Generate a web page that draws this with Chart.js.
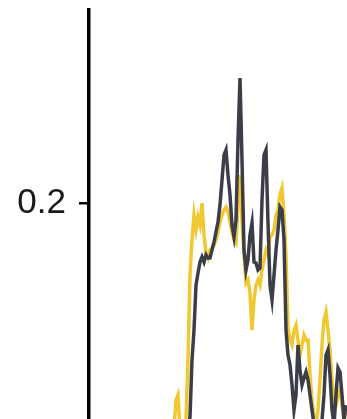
<!DOCTYPE html>
<html>
<head>
<meta charset="utf-8">
<script src="https://cdn.jsdelivr.net/npm/chart.js@4"></script>
<style>
    html, body { margin: 0; padding: 0; background: #fff; }
    #wrap { width: 347px; height: 419px; position: relative; }
</style>
</head>
<body>
<div id="wrap"><canvas id="densityChart"></canvas></div>
<script>
// x positions (week index) shared by both series
const weeks = [
    40, 41, 42, 43, 44, 45, 46, 47, 48, 49,
    50, 51, 52, 53, 54, 55, 56, 57, 58, 59,
    60, 61, 62, 63, 64, 65, 66, 67, 68, 69,
    70, 71, 72, 73, 74, 75, 76, 77, 78, 79,
    80, 81, 82, 83, 84, 85, 86, 87, 88, 89,
    90, 91, 92, 93, 94, 95, 96, 97, 98, 99,
    100, 101, 102, 103, 104, 105, 106, 107, 108, 109,
    110, 111, 112, 113, 114, 115, 116, 117, 118, 119,
    120, 121, 122, 123, 124, 125, 126, 127, 128
];

// dark grey series
const darkValues = [
    0.0902, 0.0902, 0.0902, 0.0902, 0.0902, 0.0902, 0.0902, 0.0902, 0.0902, 0.0949,
    0.1009, 0.1274, 0.1413, 0.1622, 0.1678, 0.1729, 0.1753, 0.1729, 0.1762, 0.1748,
    0.1748, 0.1785, 0.1822, 0.1869, 0.1915, 0.1994, 0.2110, 0.2226, 0.2250, 0.2133,
    0.2041, 0.1901, 0.1846, 0.1924, 0.2296, 0.2584, 0.2203, 0.1785, 0.1692, 0.1739,
    0.1855, 0.1911, 0.1729, 0.1725, 0.1692, 0.1701, 0.2017, 0.2226, 0.2250, 0.1911,
    0.1622, 0.1553, 0.1669, 0.1785, 0.1878, 0.1985, 0.1971, 0.1832, 0.1413, 0.1297,
    0.1251, 0.1158, 0.1042, 0.1112, 0.1344, 0.1228, 0.1158, 0.1190, 0.1218, 0.1181,
    0.1112, 0.1042, 0.0972, 0.0949, 0.0949, 0.0949, 0.0995, 0.1112, 0.1297, 0.1321,
    0.1204, 0.1042, 0.0972, 0.1112, 0.1237, 0.1218, 0.1112, 0.0995, 0.1065
];

// yellow series
const yellowValues = [
    0.0902, 0.0902, 0.0949, 0.1088, 0.1112, 0.0949, 0.0902, 0.0926, 0.0995, 0.1274,
    0.1669, 0.1832, 0.1948, 0.1878, 0.1938, 0.1901, 0.2003, 0.1855, 0.1771, 0.1748,
    0.1785, 0.1794, 0.1808, 0.1832, 0.1869, 0.1915, 0.1948, 0.1971, 0.1985, 0.1962,
    0.1915, 0.1869, 0.1832, 0.1818, 0.1994, 0.2133, 0.1924, 0.1762, 0.1632, 0.1646,
    0.1585, 0.1413, 0.1553, 0.1622, 0.1646, 0.1622, 0.1692, 0.1739, 0.1785, 0.1762,
    0.1846, 0.1855, 0.1878, 0.1948, 0.1971, 0.2041, 0.2073, 0.1948, 0.1762, 0.1427,
    0.1367, 0.1344, 0.1413, 0.1437, 0.1367, 0.1297, 0.1344, 0.1390, 0.1367, 0.1367,
    0.1204, 0.1088, 0.1009, 0.0972, 0.1042, 0.1181, 0.1344, 0.1460, 0.1497, 0.1413,
    0.1321, 0.1181, 0.1088, 0.1065, 0.1112, 0.1135, 0.1065, 0.0995, 0.1042
];

const yTicks = [0.2];

const toPoints = (vals) => vals.map((v, i) => ({ x: weeks[i], y: v }));

const chartItem = document.getElementById('densityChart');
if (chartItem) {
    const densityChart = new Chart(chartItem, {
        type: 'line',
        data: {
            datasets: [
                {
                    label: 'Dark',
                    borderColor: '#3b3e48',
                    backgroundColor: 'transparent',
                    data: toPoints(darkValues),
                    fill: false
                },
                {
                    label: 'Yellow',
                    borderColor: '#f0c832',
                    backgroundColor: 'transparent',
                    data: toPoints(yellowValues),
                    fill: false
                }
            ]
        },
        options: {
            responsive: true,
            maintainAspectRatio: false,
            animation: false,
            layout: {
                padding: { top: 10, left: 0, right: 0, bottom: 0 }
            },
            plugins: {
                legend: { display: false },
                tooltip: { enabled: false }
            },
            scales: {
                x: {
                    type: 'linear',
                    display: false,
                    min: -0.5,
                    max: 128.5
                },
                y: {
                    min: 0.1,
                    max: 0.29,
                    afterFit: (scale) => {
                        scale.width = 89;
                        // no extra room for the tick label at the ends
                        scale.paddingTop = 0;
                        scale.paddingBottom = 0;
                    },
                    afterBuildTicks: (scale) => {
                        scale.ticks = yTicks.map(v => ({ value: v }));
                    },
                    border: {
                        display: true,
                        color: '#000',
                        width: 3.5
                    },
                    grid: {
                        drawOnChartArea: false,
                        drawTicks: true,
                        tickLength: 10,
                        color: '#000',
                        lineWidth: 2.5
                    },
                    ticks: {
                        padding: 13,
                        color: '#1a1a1a',
                        font: { family: 'Liberation Sans', size: 35 },
                        callback: (v) => Number(v).toFixed(1)
                    }
                }
            },
            elements: {
                line: {
                    borderWidth: 3.5,
                    tension: 0
                },
                point: {
                    radius: 0
                }
            }
        }
    });
}
</script>
</body>
</html>
